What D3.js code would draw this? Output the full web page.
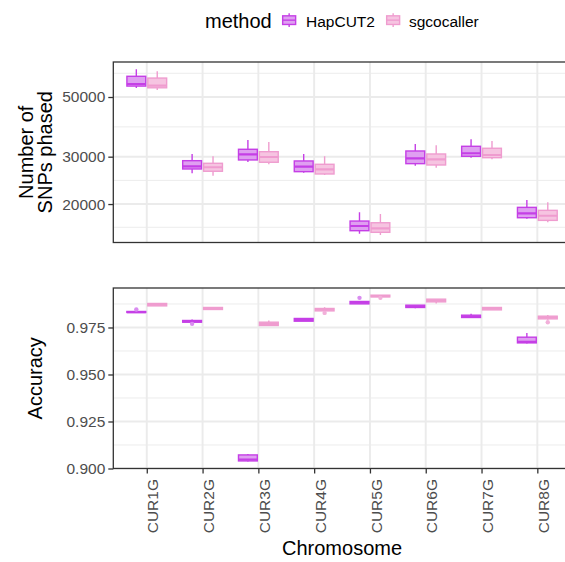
<!DOCTYPE html>
<html>
<head>
<meta charset="utf-8">
<script src="https://cdn.jsdelivr.net/npm/d3@7"></script>
<style>
  body { margin: 0; background: #fff; }
  svg { display: block; font-family: "Liberation Sans", Arial, sans-serif; }
</style>
</head>
<body>
<svg id="chart" width="565" height="562"></svg>
<script>
// ---------------- data ----------------
const chromosomes = ["CUR1G","CUR2G","CUR3G","CUR4G","CUR5G","CUR6G","CUR7G","CUR8G"];
const methods = ["HapCUT2","sgcocaller"];

// box stats: [whiskerLow, q1, median, q3, whiskerHigh]
const snpsHapCUT2 = [
  [54000, 54900, 55900, 59700, 63400],
  [26030, 27000, 27630, 28990, 30700],
  [28670, 29170, 30620, 31960, 34610],
  [26170, 26390, 27540, 28920, 30700],
  [15510, 15920, 16570, 17290, 18630],
  [27780, 28260, 29590, 31500, 33440],
  [29740, 30100, 30890, 32790, 34820],
  [17640, 17790, 18470, 19440, 20700]
];
const snpsSgcocaller = [
  [53100, 54100, 55100, 58800, 62300],
  [25500, 26480, 27400, 28350, 30100],
  [28110, 28600, 29920, 31310, 34020],
  [25650, 25870, 26930, 28110, 30080],
  [15340, 15700, 16250, 17040, 18360],
  [27300, 27940, 29340, 30700, 33080],
  [29340, 29740, 30440, 32240, 34320],
  [17100, 17390, 18090, 18950, 20290]
];
const accHapCUT2 = [
  [0.98290, 0.98298, 0.98314, 0.98351, 0.98370],
  [0.97770, 0.97782, 0.97825, 0.97872, 0.97926],
  [0.90371, 0.90403, 0.90478, 0.90722, 0.90776],
  [0.97830, 0.97835, 0.97904, 0.97979, 0.98000],
  [0.98756, 0.98756, 0.98819, 0.98883, 0.98883],
  [0.98520, 0.98564, 0.98617, 0.98686, 0.98686],
  [0.98030, 0.98032, 0.98085, 0.98154, 0.98224],
  [0.96649, 0.96681, 0.96734, 0.96984, 0.97213]
];
const accSgcocaller = [
  [0.98649, 0.98649, 0.98710, 0.98777, 0.98777],
  [0.98430, 0.98458, 0.98511, 0.98564, 0.98564],
  [0.97590, 0.97606, 0.97692, 0.97782, 0.97872],
  [0.98383, 0.98383, 0.98458, 0.98511, 0.98580],
  [0.99128, 0.99128, 0.99165, 0.99218, 0.99218],
  [0.98777, 0.98862, 0.98926, 0.99006, 0.99006],
  [0.98436, 0.98436, 0.98500, 0.98564, 0.98564],
  [0.97915, 0.97958, 0.98032, 0.98101, 0.98170]
];
const accOutliersHapCUT2 = [["CUR1G", 0.98458], ["CUR2G", 0.97692], ["CUR5G", 0.99075]];
const accOutliersSgcocaller = [["CUR4G", 0.98277], ["CUR5G", 0.99075], ["CUR8G", 0.97782]];

const snpsTicks = [20000, 30000, 50000];
const snpsMinor = [16390, 24495, 38730, 61250];
const snpsDomain = [14390, 67470];
const accTicks = [0.900, 0.925, 0.950, 0.975];
const accMinor = [0.9125, 0.9375, 0.9625, 0.9875];
const accDomain = [0.900, 0.996];

// ---------------- styles ----------------
const strokeCol = { "HapCUT2": "#c53fe6", "sgcocaller": "#ef9ccf" };
const fillCol = { "HapCUT2": "#df9ff1", "sgcocaller": "#f6c4e1" };
const outCol = { "HapCUT2": "#d98cf0", "sgcocaller": "#f2b0da" };

const svg = d3.select("#chart");
svg.append("rect").attr("width", 565).attr("height", 562).attr("fill", "#fff");

const left = 113.3, right = 570.8;
const x = d3.scalePoint().domain(chromosomes).range([left, right]).padding(0.6);
const step = x.step();
const dodge = d3.scaleBand().domain(methods).range([-0.375 * step, 0.375 * step]).paddingInner(0.1).paddingOuter(0.05);

const panels = [
  { top: 62, bottom: 242.5, y: d3.scaleLog().domain(snpsDomain).range([242.5, 62]),
    ticks: snpsTicks, minor: snpsMinor, fmt: d => String(d),
    data: { "HapCUT2": snpsHapCUT2, "sgcocaller": snpsSgcocaller }, outliers: null, xaxis: false },
  { top: 288, bottom: 468.5, y: d3.scaleLinear().domain(accDomain).range([468.5, 288]),
    ticks: accTicks, minor: accMinor, fmt: d3.format(".3f"),
    data: { "HapCUT2": accHapCUT2, "sgcocaller": accSgcocaller },
    outliers: { "HapCUT2": accOutliersHapCUT2, "sgcocaller": accOutliersSgcocaller }, xaxis: true }
];

panels.forEach((p, pi) => {
  const g = svg.append("g");
  const clipId = "clip" + pi;
  svg.append("clipPath").attr("id", clipId).append("rect")
    .attr("x", left).attr("y", p.top).attr("width", right - left).attr("height", p.bottom - p.top);
  const inner = g.append("g").attr("clip-path", `url(#${clipId})`);
  // grid minor
  inner.selectAll(".minor").data(p.minor).join("line")
    .attr("x1", left).attr("x2", right)
    .attr("y1", d => p.y(d)).attr("y2", d => p.y(d))
    .attr("stroke", "#ebebeb").attr("stroke-width", 0.97);
  // grid major
  inner.selectAll(".majorY").data(p.ticks).join("line")
    .attr("x1", left).attr("x2", right)
    .attr("y1", d => p.y(d)).attr("y2", d => p.y(d))
    .attr("stroke", "#ebebeb").attr("stroke-width", 1.94);
  inner.selectAll(".majorX").data(chromosomes).join("line")
    .attr("x1", d => x(d)).attr("x2", d => x(d))
    .attr("y1", p.top).attr("y2", p.bottom)
    .attr("stroke", "#ebebeb").attr("stroke-width", 1.94);

  // boxes
  methods.forEach(m => {
    const bw = dodge.bandwidth();
    const rows = p.data[m].map((s, i) => ({ c: chromosomes[i], s }));
    const bg = inner.append("g");
    rows.forEach(r => {
      const cx = x(r.c) + dodge(m) + bw / 2;
      const [wl, q1, md, q3, wh] = r.s;
      bg.append("line").attr("x1", cx).attr("x2", cx)
        .attr("y1", p.y(wh)).attr("y2", p.y(q3))
        .attr("stroke", strokeCol[m]).attr("stroke-width", 1.4);
      bg.append("line").attr("x1", cx).attr("x2", cx)
        .attr("y1", p.y(q1)).attr("y2", p.y(wl))
        .attr("stroke", strokeCol[m]).attr("stroke-width", 1.4);
      bg.append("rect").attr("x", cx - bw / 2).attr("width", bw)
        .attr("y", p.y(q3)).attr("height", Math.max(0.01, p.y(q1) - p.y(q3)))
        .attr("fill", fillCol[m]).attr("stroke", strokeCol[m]).attr("stroke-width", 1.4);
      bg.append("line").attr("x1", cx - bw / 2).attr("x2", cx + bw / 2)
        .attr("y1", p.y(md)).attr("y2", p.y(md))
        .attr("stroke", strokeCol[m]).attr("stroke-width", 2.2);
    });
    if (p.outliers) {
      bg.selectAll(".out").data(p.outliers[m]).join("circle")
        .attr("cx", d => x(d[0]) + dodge(m) + bw / 2)
        .attr("cy", d => p.y(d[1]))
        .attr("r", 2.2).attr("fill", outCol[m]);
    }
  });

  // border
  g.append("rect").attr("x", left).attr("y", p.top)
    .attr("width", right - left).attr("height", p.bottom - p.top)
    .attr("fill", "none").attr("stroke", "#333333").attr("stroke-width", 1.3);

  // y axis
  const ya = g.append("g").attr("transform", `translate(${left},0)`)
    .call(d3.axisLeft(p.y).tickValues(p.ticks).tickFormat(p.fmt).tickSize(5).tickPadding(3));
  ya.select(".domain").remove();
  ya.selectAll(".tick line").attr("stroke", "#333333").attr("stroke-width", 1.3);
  ya.selectAll(".tick text").attr("fill", "#4d4d4d").style("font-size", "15.5px")
    .style("font-family", "Liberation Sans, Arial, sans-serif");

  if (p.xaxis) {
    const xa = g.append("g").attr("transform", `translate(0,${p.bottom})`)
      .call(d3.axisBottom(x).tickSize(5).tickFormat(""));
    xa.select(".domain").remove();
    xa.selectAll(".tick line").attr("stroke", "#333333").attr("stroke-width", 1.3);
    g.selectAll(".xlab").data(chromosomes).join("text")
      .attr("transform", d => `translate(${x(d) + 11.6},479) rotate(-90)`)
      .attr("text-anchor", "end")
      .attr("fill", "#4d4d4d").style("font-size", "15.5px")
      .text(d => d);
  }
});

// axis titles
const t1 = svg.append("text").attr("text-anchor", "middle").style("font-size", "20px").attr("fill", "#000");
t1.append("tspan").attr("x", 0).attr("y", 0).text("Number of");
t1.attr("transform", `translate(32.5,${(62 + 242.5) / 2}) rotate(-90)`);
svg.append("text").attr("text-anchor", "middle").style("font-size", "20px").attr("fill", "#000")
  .attr("transform", `translate(52,${(62 + 242.5) / 2}) rotate(-90)`).text("SNPs phased");
svg.append("text").attr("text-anchor", "middle").style("font-size", "20px").attr("fill", "#000")
  .attr("transform", `translate(42,${(288 + 468.5) / 2}) rotate(-90)`).text("Accuracy");
svg.append("text").attr("text-anchor", "middle").style("font-size", "20px").attr("fill", "#000")
  .attr("x", (left + right) / 2).attr("y", 554.5).text("Chromosome");

// legend
const lg = svg.append("g");
lg.append("text").attr("x", 205).attr("y", 27.5).style("font-size", "20px").attr("fill", "#000").text("method");
const keyX = { "HapCUT2": 280.5, "sgcocaller": 384.5 };
const txtX = { "HapCUT2": 306, "sgcocaller": 409 };
methods.forEach(m => {
  const kx = keyX[m], ky = 11.5, ks = 17.3;
  lg.append("line").attr("x1", kx + ks / 2).attr("x2", kx + ks / 2).attr("y1", ky + ks * 0.1).attr("y2", ky + ks * 0.9)
    .attr("stroke", strokeCol[m]).attr("stroke-width", 1.4);
  lg.append("rect").attr("x", kx + ks * 0.125).attr("y", ky + ks * 0.25).attr("width", ks * 0.75).attr("height", ks * 0.5)
    .attr("fill", fillCol[m]).attr("stroke", strokeCol[m]).attr("stroke-width", 1.4);
  lg.append("line").attr("x1", kx + ks * 0.125).attr("x2", kx + ks * 0.875).attr("y1", ky + ks / 2).attr("y2", ky + ks / 2)
    .attr("stroke", strokeCol[m]).attr("stroke-width", 1.4);
  lg.append("text").attr("x", txtX[m]).attr("y", 26.5).style("font-size", "15.5px").attr("fill", "#000").text(m);
});
</script>
</body>
</html>
